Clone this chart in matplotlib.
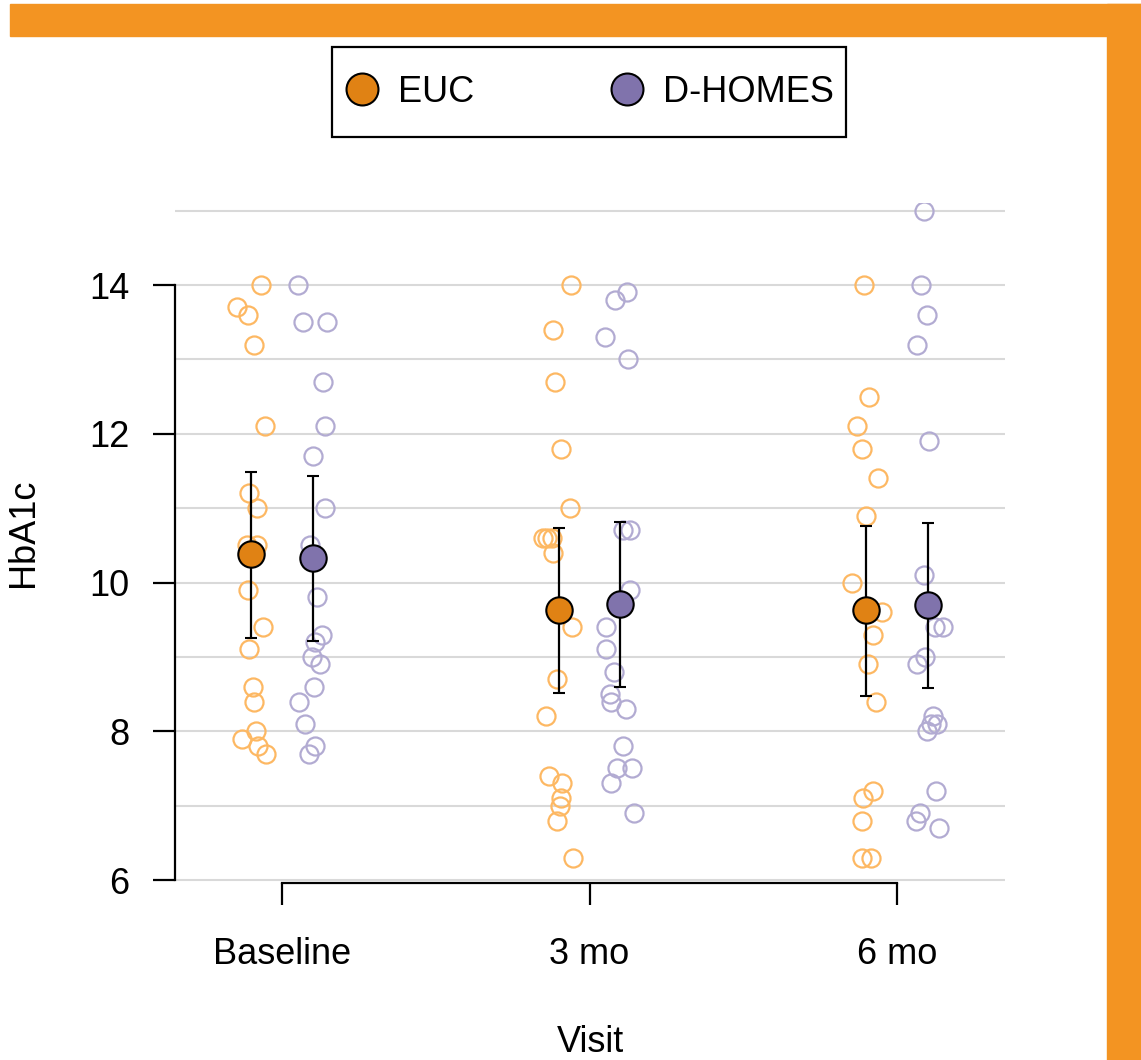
import numpy as np
import matplotlib.pyplot as plt
from matplotlib.lines import Line2D
from matplotlib.patches import Rectangle

plt.rcParams['font.family'] = ['Liberation Sans', 'DejaVu Sans']

visits = ['Baseline', '3 mo', '6 mo']
groups = ['EUC', 'D-HOMES']

# individual HbA1c values
euc_base = [14.0, 13.7, 13.6, 13.2, 12.1, 11.2, 11.0, 10.5, 10.5, 9.9, 9.4, 9.1, 8.6, 8.4, 8.0, 7.9, 7.8, 7.7]
dh_base = [14.0, 13.5, 13.5, 12.7, 12.1, 11.7, 11.0, 10.5, 9.8, 9.3, 9.2, 9.0, 8.9, 8.6, 8.4, 8.1, 7.8, 7.7]
euc_3mo = [14.0, 13.4, 12.7, 11.8, 11.0, 10.6, 10.6, 10.6, 10.4, 9.4, 8.7, 8.2, 7.4, 7.3, 7.1, 7.0, 6.8, 6.3]
dh_3mo = [13.9, 13.8, 13.3, 13.0, 10.7, 10.7, 9.9, 9.4, 9.1, 8.8, 8.5, 8.4, 8.3, 7.8, 7.5, 7.5, 7.3, 6.9]
euc_6mo = [14.0, 12.5, 12.1, 11.8, 11.4, 10.9, 10.0, 9.6, 9.3, 8.9, 8.4, 7.2, 7.1, 6.8, 6.3, 6.3]
dh_6mo = [15.0, 14.0, 13.6, 13.2, 11.9, 10.1, 9.4, 9.4, 9.0, 8.9, 8.2, 8.1, 8.1, 8.0, 7.2, 6.9, 6.8, 6.7]

# horizontal jitter of each point, as seen in the picture
jit_euc_base = [0.031, -0.047, -0.012, 0.009, 0.045, -0.006, 0.020, -0.015, 0.018, -0.012, 0.039, -0.006, 0.007, 0.010, 0.015, -0.031, 0.023, 0.047]
jit_dh_base = [-0.049, -0.031, 0.045, 0.034, 0.040, 0.000, 0.040, -0.009, 0.015, 0.029, 0.007, -0.003, 0.024, 0.005, -0.044, -0.025, 0.007, -0.012]
jit_euc_3mo = [0.040, -0.020, -0.012, 0.006, 0.037, -0.051, -0.038, -0.022, -0.019, 0.043, -0.006, -0.041, -0.032, 0.010, 0.006, 0.004, -0.006, 0.046]
jit_dh_3mo = [0.023, -0.017, -0.050, 0.026, 0.009, 0.032, 0.032, -0.046, -0.046, -0.019, -0.033, -0.031, 0.019, 0.010, -0.010, 0.037, -0.030, 0.046]
jit_euc_6mo = [-0.007, 0.010, -0.031, -0.015, 0.037, -0.002, -0.047, 0.050, 0.023, 0.007, 0.032, 0.023, -0.012, -0.015, -0.014, 0.015]
jit_dh_6mo = [-0.011, -0.023, -0.001, -0.034, 0.005, -0.011, 0.024, 0.049, -0.009, -0.034, 0.016, 0.011, 0.030, -0.002, 0.027, -0.027, -0.038, 0.038]

# group means with error bars
euc_mean = [10.38, 9.63, 9.63]
euc_low = [9.26, 8.52, 8.48]
euc_high = [11.48, 10.73, 10.76]
dh_mean = [10.33, 9.71, 9.70]
dh_low = [9.22, 8.60, 8.58]
dh_high = [11.43, 10.81, 10.80]

euc_dark, euc_light = '#E08214', '#FDB863'
dh_dark, dh_light = '#8073AC', '#B2ABD2'
frame_col = '#F39422'

fig = plt.figure(figsize=(11.41, 10.6), dpi=100)
ax = fig.add_axes([0.15337, 0.16698, 0.72743, 0.64132])

# orange frame top and right
fig.patches.append(Rectangle((10 / 1141, 1 - 36 / 1060), 1, 32 / 1060, transform=fig.transFigure,
                             color=frame_col, zorder=0))
fig.patches.append(Rectangle((1107 / 1141, 0), 1, 1 - 4 / 1060, transform=fig.transFigure,
                             color=frame_col, zorder=0))

xpos = np.arange(1, len(visits) + 1)
dodge = 0.1

raw = [(euc_base, jit_euc_base, dh_base, jit_dh_base),
       (euc_3mo, jit_euc_3mo, dh_3mo, jit_dh_3mo),
       (euc_6mo, jit_euc_6mo, dh_6mo, jit_dh_6mo)]

for i, (ev, ej, dv, dj) in enumerate(raw):
    ax.plot(xpos[i] - dodge + np.array(ej), ev, 'o', mfc='none', mec=euc_light, mew=1.6, ms=13, zorder=2)
    ax.plot(xpos[i] + dodge + np.array(dj), dv, 'o', mfc='none', mec=dh_light, mew=1.6, ms=13, zorder=2)

for off, m, lo, hi, col in [(-dodge, euc_mean, euc_low, euc_high, euc_dark),
                            (dodge, dh_mean, dh_low, dh_high, dh_dark)]:
    m = np.array(m)
    ax.errorbar(xpos + off, m, yerr=[m - np.array(lo), np.array(hi) - m], fmt='o', ms=19,
                mfc=col, mec='black', mew=1.5, ecolor='black', elinewidth=1.6,
                capsize=4.5, capthick=1.6, zorder=3)

ax.set_xlim(0.652, 3.351)
ax.set_ylim(5.96, 15.1)

ax.set_yticks([6, 8, 10, 12, 14])
ax.set_yticks([7, 9, 11, 13, 15], minor=True)
ax.set_xticks(xpos)
ax.set_xticklabels(visits)
ax.grid(axis='y', which='both', color='#D9D9D9', lw=1.5)
ax.set_axisbelow(True)

for s in ['top', 'right']:
    ax.spines[s].set_visible(False)
ax.spines['left'].set_bounds(6, 14)
ax.spines['bottom'].set_bounds(1, 3)
ax.spines['left'].set_linewidth(1.6)
ax.spines['bottom'].set_linewidth(1.6)

ax.tick_params(axis='y', which='major', length=16, width=1.6, pad=17, labelsize=26)
ax.tick_params(axis='y', which='minor', length=0)
ax.tick_params(axis='x', length=16, width=1.6, pad=23, labelsize=26)

fig.text(590 / 1141, 1 - 1052 / 1060, 'Visit', ha='center', va='baseline', fontsize=26)
fig.text(23.5 / 1141, 1 - 533 / 1060, 'HbA1c', ha='center', va='center', rotation=90, fontsize=26)

# legend: box drawn separately so the entries stay centred in it
fig.patches.append(Rectangle((332 / 1141, 1 - 137 / 1060), 514 / 1141, 90 / 1060,
                             transform=fig.transFigure, fill=False, ec='black', lw=1.6))
handles = [Line2D([], [], ls='none', marker='o', ms=23, mfc=euc_dark, mec='black', mew=1.5),
           Line2D([], [], ls='none', marker='o', ms=23, mfc=dh_dark, mec='black', mew=1.5)]
fig.legend(handles, groups, loc='center', bbox_to_anchor=(589 / 1141, 1 - 92 / 1060),
           ncol=2, fontsize=26, frameon=False,
           borderpad=0.35, handlelength=1.0, handletextpad=0.5,
           columnspacing=3.73, borderaxespad=0)

fig.savefig('out.png', dpi=100)
